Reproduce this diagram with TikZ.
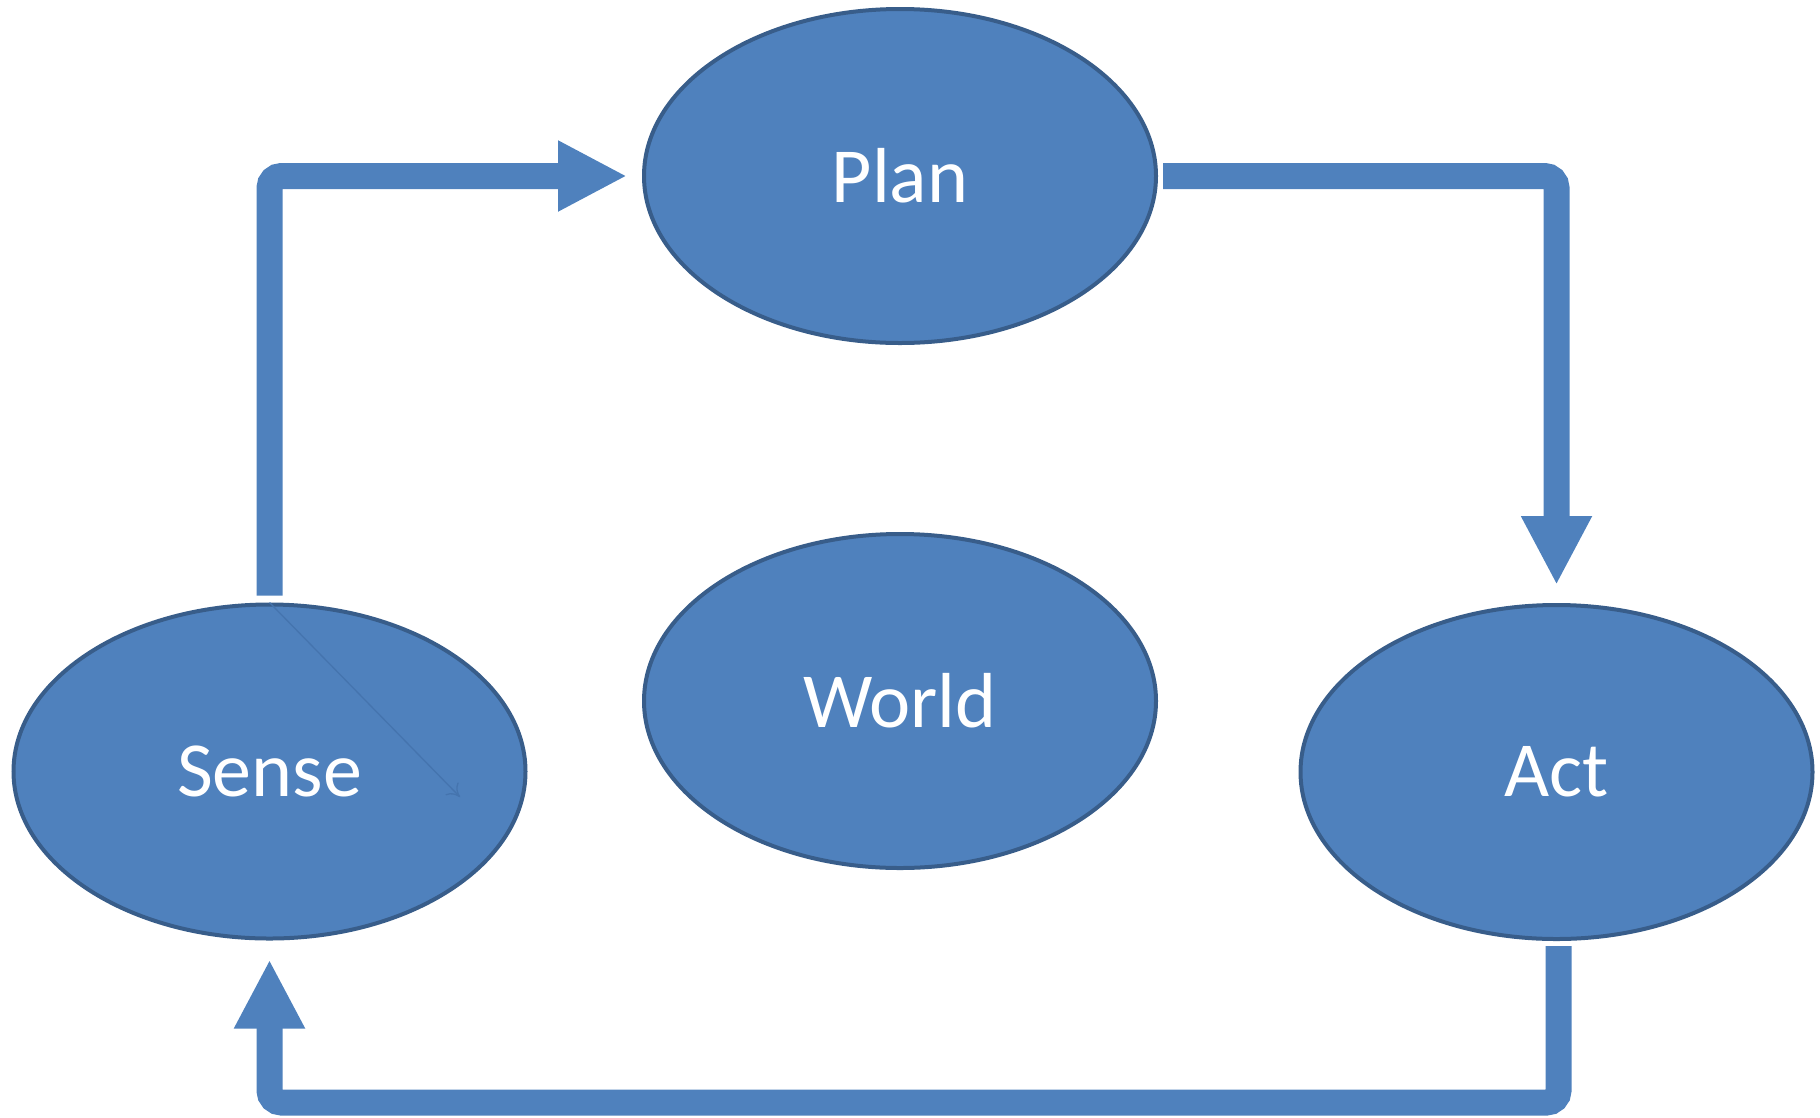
\documentclass[tikz,border=0pt]{standalone}
\usepackage{fontspec}
\setmainfont{Carlito}
\usetikzlibrary{shapes.geometric,arrows.meta}
\definecolor{blobfill}{HTML}{4F81BD}
\definecolor{blobedge}{HTML}{385D8A}
\definecolor{faint}{HTML}{4574AE}
\begin{document}
\begin{tikzpicture}[x=1pt,y=-1pt,
  blob/.style={ellipse,draw=blobedge,fill=blobfill,line width=4pt,
    minimum width=512pt,minimum height=334pt,inner sep=0pt,
    text=white,font=\fontsize{78}{90}\selectfont},
  fat/.style={draw=blobfill,line width=26pt,rounded corners=12pt,line cap=butt,
    -{Triangle[width=66pt,length=69pt]}},
  ghost/.style={draw=faint,line width=1.3pt,-{To[length=12pt,width=18pt]}}]
\useasboundingbox (0,0) rectangle (1820,1117);

\node[blob] (plan)  at (900,176)    {Plan};
\node[blob] (world) at (900,701)    {World};
\node[blob] (sense) at (269.5,771.5) {Sense};
\node[blob] (act)   at (1556.5,772) {Act};

% sense -> plan
\draw[fat] ([yshift=7pt]sense.north) |- ([xshift=-15pt]plan.west);
% plan -> act
\draw[fat] ([xshift=5pt]plan.east) -| ([yshift=18pt]act.north);
% act -> sense, along the bottom
\coordinate (floor) at (0,1102.5);
\draw[fat] ([xshift=2pt,yshift=-5pt]act.south) -- ([xshift=2pt]act.south |- floor)
  -| ([yshift=-19pt]sense.south);

% stray connector inside the sense ellipse
\coordinate (strayend) at (460,797);
\draw[ghost] (sense.north) -- (strayend);
\end{tikzpicture}
\end{document}
